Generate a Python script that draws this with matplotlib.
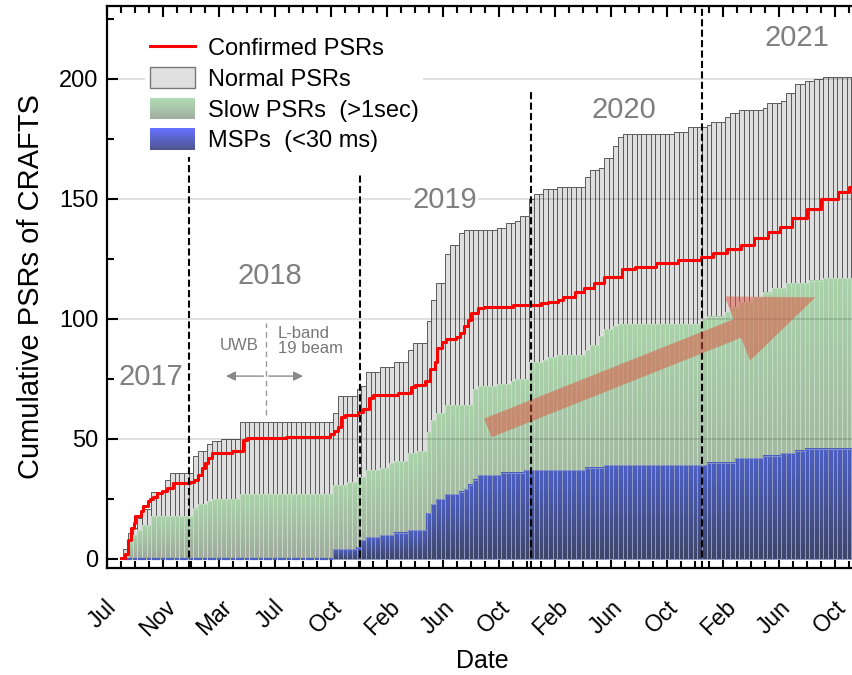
import numpy as np
import matplotlib.pyplot as plt
from matplotlib.colors import to_rgba
from matplotlib.lines import Line2D
from matplotlib.patches import Patch, Rectangle, FancyArrow
from matplotlib.legend_handler import HandlerBase
from matplotlib.transforms import IdentityTransform, ScaledTranslation

plt.rcParams['font.family'] = ['Liberation Sans', 'DejaVu Sans']

# months counted from Jul 2017; each list gives the month where the
# cumulative count steps up and the new total
total_months = [1.2, 1.6, 1.9, 2.3, 2.6, 3.0, 3.3, 4.0, 4.3, 4.6, 6.0, 6.3, 6.6, 7.3, 7.6, 8.0, 9.6,
                16.0, 16.6, 17.9, 18.3, 18.6, 19.6, 20.6, 21.6, 21.9, 22.9, 23.3, 23.6, 24.0, 24.3,
                24.6, 25.0, 25.3, 25.6, 27.9, 28.6, 29.3, 29.6, 30.0, 30.3, 30.6, 31.3, 32.0, 34.0,
                34.6, 35.3, 35.6, 36.0, 36.3, 36.6, 36.9, 40.6, 41.6, 42.9, 43.3, 44.3, 44.6, 45.0,
                46.9, 47.3, 48.0, 48.6, 49.0, 49.9, 50.6, 51.2]
total_counts = [4, 11, 13, 17, 21, 23, 28, 31, 33, 36, 40, 43, 45, 48, 49, 50, 57,
                61, 68, 71, 72, 78, 80, 82, 87, 90, 99, 108, 115, 120, 127,
                131, 134, 136, 137, 138, 140, 141, 143, 149, 150, 152, 154, 155, 159,
                162, 163, 167, 171, 172, 176, 177, 178, 180, 181, 182, 184, 186, 187,
                188, 190, 191, 194, 198, 199, 200, 201]

slow_months = [1.6, 1.9, 2.3, 2.6, 3.0, 3.3, 6.0, 6.3, 6.6, 7.0, 7.6, 9.6, 16.0, 16.3, 17.3, 17.9,
               18.6, 19.6, 20.3, 20.6, 21.6, 22.0, 22.9, 23.3, 23.6, 24.0, 26.0, 26.5, 27.9, 28.9,
               29.3, 30.0, 30.3, 31.3, 31.6, 32.3, 34.0, 34.6, 35.3, 35.6, 36.3, 36.6, 42.6, 42.9,
               44.0, 44.6, 45.3, 46.0, 46.9, 47.6, 48.6, 50.3, 51.3]
slow_counts = [7, 10, 12, 14, 16, 18, 19, 21, 23, 24, 25, 27, 29, 31, 32, 34,
               37, 38, 40, 41, 44, 45, 53, 58, 61, 64, 71, 72, 73, 74,
               75, 77, 82, 83, 84, 85, 87, 89, 93, 96, 97, 98, 100, 101,
               103, 105, 107, 109, 111, 113, 115, 116, 117]

msp_months = [16.0, 16.3, 17.8, 18.0, 18.6, 19.6, 20.6, 21.6, 22.9, 23.3, 23.6, 24.0, 25.0, 25.4,
              25.8, 26.0, 26.4, 28.0, 29.7, 34.3, 35.6, 42.9, 44.7, 46.9, 48.3, 49.0, 49.9]
msp_counts = [3, 4, 5, 8, 9, 10, 11, 12, 19, 23, 25, 27, 28, 29,
              31, 33, 35, 36, 37, 38, 39, 40, 42, 43, 44, 45, 46]

confirmed_months = [1.0, 1.3, 1.5, 1.7, 1.9, 2.0, 2.4, 2.6, 2.9, 3.1, 3.3, 3.6, 3.95, 4.3, 4.7,
                    5.9, 6.2, 6.5, 6.8, 7.0, 7.2, 7.5, 8.9, 9.7, 10.0, 12.8, 15.9, 16.2, 16.5,
                    16.7, 17.0, 17.9, 18.3, 18.7, 19.0, 20.8, 21.7, 22.0, 22.7, 23.1, 23.4, 23.6,
                    23.9, 24.2, 24.9, 25.2, 25.5, 25.8, 26.0, 26.5, 26.95, 29.0, 31.0, 31.5, 32.2,
                    32.6, 33.4, 34.1, 34.8, 35.5, 36.8, 37.7, 39.2, 40.8, 42.4, 43.3, 44.3, 45.3,
                    46.2, 47.2, 48.1, 48.9, 50.0, 51.0, 52.2, 53.0]
confirmed_counts = [0.5, 2, 8, 13, 15, 18, 20, 22, 24, 25, 26, 27.5, 28.5, 29.5, 31.5,
                    32, 33, 35, 38, 40, 42, 44, 45, 49.5, 50.3, 51, 52, 53.5, 55,
                    59, 60, 61.4, 62.4, 67, 68.3, 69, 71.5, 72.5, 74, 79, 82, 88,
                    90.5, 91.5, 92.6, 94, 97, 99.6, 102.5, 104.4, 105, 106, 106.5, 107, 108,
                    109.3, 111.4, 112.8, 114.9, 117.6, 121, 121.8, 123.5, 124.6, 125.7, 127.4, 129.2, 131,
                    133.6, 136.4, 138.5, 142, 146, 150, 153, 155]

tick_labels = ['Jul', 'Nov', 'Mar', 'Jul', 'Oct', 'Feb', 'Jun', 'Oct', 'Feb', 'Jun', 'Oct', 'Feb', 'Jun', 'Oct']
year_labels = ['2017', '2018', '2019', '2020', '2021']
year_pos = [(3.1, 76), (11.6, 118), (24.1, 149.6), (36.9, 187), (49.3, 217)]
year_lines = [5.85, 18.1, 30.3, 42.5]
year_line_tops = [168, 161, 195, 231]

XMAX = 750 / 14.0
step = 1 / 3.0
bar_x = np.arange(1.0, XMAX, step)


def cumulative_at(months, counts, x):
    idx = np.searchsorted(months, x, side='right') - 1
    out = np.where(idx >= 0, np.asarray(counts, float)[np.clip(idx, 0, None)], 0.0)
    return out


def gradient_bars(ax, x, heights, width, c_bottom, c_top, edge, zorder):
    # each bar fades from c_bottom at its base to c_top at its top
    ymax = heights.max()
    rows = 900
    yy = (np.arange(rows) + 0.5) / rows * ymax
    h = np.where(heights > 0, heights, np.nan)
    frac = np.nan_to_num(yy[:, None] / h[None, :], nan=2.0)
    lo = np.array(to_rgba(c_bottom))
    hi = np.array(to_rgba(c_top))
    rgba = lo + (hi - lo) * np.clip(frac, 0, 1)[..., None]
    rgba[..., 3] = (frac <= 1).astype(float)
    ax.imshow(rgba, origin='lower', aspect='auto', interpolation='nearest',
              extent=[x[0] - width / 2, x[-1] + width / 2, 0, ymax], zorder=zorder)
    ax.bar(x, heights, width, color='none', edgecolor=edge, linewidth=0.6, zorder=zorder + 0.1)


class GradientHandler(HandlerBase):
    def __init__(self, c_bottom, c_top):
        super().__init__()
        self.c_bottom = np.array(to_rgba(c_bottom))
        self.c_top = np.array(to_rgba(c_top))

    def create_artists(self, legend, orig_handle, xdescent, ydescent, width, height, fontsize, trans):
        n = 20
        strips = []
        for i in range(n):
            c = self.c_bottom + (self.c_top - self.c_bottom) * (i + 0.5) / n
            strips.append(Rectangle((-xdescent, -ydescent + height * i / n), width, height / n + 0.3,
                                    facecolor=c, edgecolor='none', transform=trans))
        return strips


total = cumulative_at(total_months, total_counts, bar_x)
slow = cumulative_at(slow_months, slow_counts, bar_x)
msp = cumulative_at(msp_months, msp_counts, bar_x)

fig = plt.figure(figsize=(8.53, 6.75), dpi=100)
ax = fig.add_axes([107 / 853, 1 - 568 / 675, 750 / 853, 562 / 675])

keep = total > 0
ax.bar(bar_x[keep], total[keep], step, color='#dedede', edgecolor='#5a5a5a', linewidth=0.7, zorder=1)
g = slow > 0
gradient_bars(ax, bar_x[g], slow[g], step, '#a0a89e', '#a9d3a9', '#c4dcc4', 2)
m = msp > 0
gradient_bars(ax, bar_x[m], msp[m], step, '#3f4566', '#4c60c4', '#8f98c8', 3)
z = keep & ~m
ax.hlines(np.zeros(z.sum()), bar_x[z] - step * 0.4, bar_x[z] + step * 0.4, color='#4c60c4', lw=1.6, zorder=3)

for yv in [50, 100, 150, 200]:
    ax.axhline(yv, color='k', alpha=0.13, lw=1.3, zorder=3.5)

ax.plot(np.r_[confirmed_months, XMAX], np.r_[confirmed_counts, confirmed_counts[-1]],
        drawstyle='steps-post', color='#ff0000', lw=2.2, zorder=6)

ax.set_xlim(0, XMAX)
ax.set_ylim(-3.75, 230.4)

for xv, top in zip(year_lines, year_line_tops):
    ax.plot([xv, xv], [-3.75, top], color='k', lw=1.5, ls=(0, (3.4, 1.6)), zorder=7)

for txt, (xv, yv) in zip(year_labels, year_pos):
    ax.text(xv, yv, txt, fontsize=21, color='#7f7f7f', ha='center', va='center', zorder=4,
            bbox=dict(facecolor='white', edgecolor='none', pad=1))

# survey mode switch
ax.plot([11.36, 11.36], [60, 98.5], color='#999999', lw=1, ls=(0, (4, 3)), zorder=4)
ax.annotate('', xy=(8.3, 76.2), xytext=(11.36, 76.2),
            arrowprops=dict(arrowstyle='-|>', color='#8a8a8a', lw=1, mutation_scale=14), zorder=4)
ax.annotate('', xy=(14.2, 76.2), xytext=(11.36, 76.2),
            arrowprops=dict(arrowstyle='-|>', color='#8a8a8a', lw=1, mutation_scale=14), zorder=4)
ax.text(9.45, 89, 'UWB', fontsize=12, color='#777777', ha='center', va='center', zorder=4)
ax.text(12.2, 91, 'L-band\n19 beam', fontsize=12, color='#777777', ha='left', va='center',
        linespacing=1.0, zorder=4, bbox=dict(facecolor='white', edgecolor='none', pad=2))

# trend arrow for the slow pulsars
p0 = ax.transData.transform((27.2, 54.6))
p1 = ax.transData.transform((50.6, 109.0))
trend = FancyArrow(p0[0], p0[1], p1[0] - p0[0], p1[1] - p0[1], width=20, head_width=69,
                   head_length=84, length_includes_head=True, transform=IdentityTransform(),
                   facecolor='#e0503c', edgecolor='none', alpha=0.5, zorder=5)
fig.add_artist(trend)

ax.set_xticks(np.arange(0, 53, 4))
ax.set_xticklabels(tick_labels, rotation=45, ha='center')
ax.set_xticks(np.arange(0, 54, 1), minor=True)
ax.set_yticks([0, 50, 100, 150, 200])
ax.set_yticks([25, 75, 125, 175, 225], minor=True)
ax.tick_params(which='both', direction='in', top=True, right=False, width=1.5)
ax.tick_params(which='major', length=8)
ax.tick_params(which='minor', length=5)
ax.tick_params(axis='x', labelsize=16.5, pad=20)
ax.tick_params(axis='y', labelsize=17, pad=6)
shift = ScaledTranslation(-0.05, 0, fig.dpi_scale_trans)
for lab in ax.get_xticklabels():
    lab.set_transform(lab.get_transform() + shift)
for s in ax.spines.values():
    s.set_linewidth(1.6)
ax.spines['right'].set_visible(False)

ax.set_ylabel('Cumulative PSRs of CRAFTS', fontsize=21, labelpad=10)
ax.set_xlabel('Date', fontsize=18, labelpad=6)

handles = [Line2D([], [], color='#ff0000', lw=2.2),
           Patch(facecolor='#e0e0e0', edgecolor='#777777'),
           Patch(facecolor='#a9d3a9'),
           Patch(facecolor='#6068e0')]
labels = ['Confirmed PSRs', 'Normal PSRs', 'Slow PSRs  (>1sec)', 'MSPs  (<30 ms)']
leg = ax.legend(handles, labels, loc='upper left', bbox_to_anchor=(0.035, 0.975), fontsize=17,
                frameon=True, framealpha=1, edgecolor='none', fancybox=False,
                handlelength=1.9, handleheight=1.0, handletextpad=0.55, labelspacing=0.3,
                borderpad=0.2,
                handler_map={handles[2]: GradientHandler('#a0aca0', '#b2dcb2'),
                             handles[3]: GradientHandler('#50558c', '#6670ff')})
leg.set_zorder(8)

fig.savefig('out.png', dpi=100)
